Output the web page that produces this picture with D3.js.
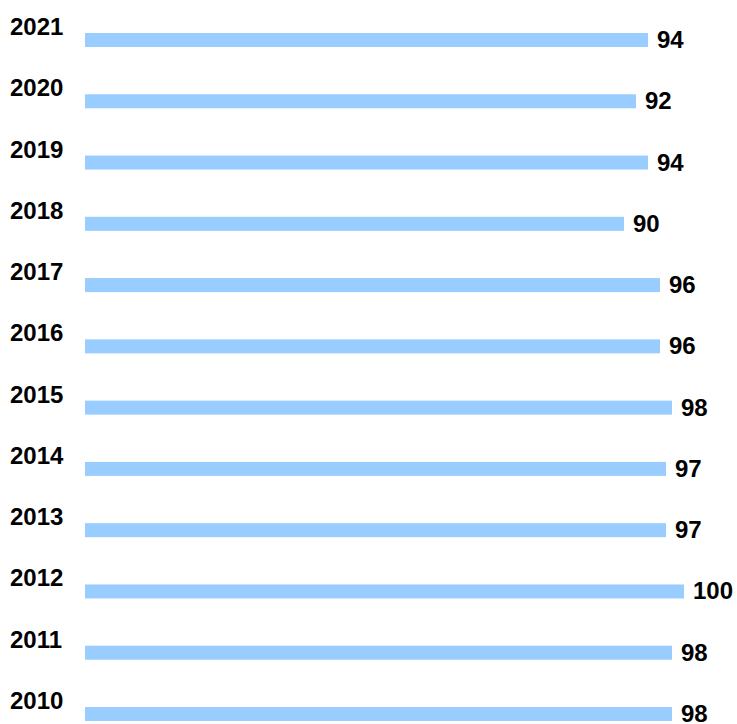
<!DOCTYPE html>
<html>
<head>
<meta charset="utf-8">
<script src="https://cdn.jsdelivr.net/npm/d3@7"></script>
<style>
  body { margin: 0; background: #fff; }
  text { font-family: "Liberation Sans", Arial, sans-serif; font-weight: bold; fill: #000; }
</style>
</head>
<body>
<script>
// data, top to bottom
const years = ["2021", "2020", "2019", "2018", "2017", "2016", "2015", "2014", "2013", "2012", "2011", "2010"];
const values = [94, 92, 94, 90, 96, 96, 98, 97, 97, 100, 98, 98];

const width = 737, height = 724;
const barH = 14;

const svg = d3.select("body").append("svg")
  .attr("width", width)
  .attr("height", height);

const x = d3.scaleLinear().domain([0, 100]).range([84, 684]);
// bar centers
const y = d3.scalePoint().domain(years).range([40, 714]);

const rows = years.map((yr, i) => ({ year: yr, value: values[i] }));

// bars
svg.selectAll("rect.bar")
  .data(rows)
  .join("rect")
  .attr("class", "bar")
  .attr("x", x(0) + 1)
  .attr("y", d => y(d.year) - barH / 2)
  .attr("width", d => x(d.value) - x(0) - 1)
  .attr("height", barH)
  .attr("fill", "#99ccff");

// year labels, sitting above the bar
svg.selectAll("text.year")
  .data(rows)
  .join("text")
  .attr("class", "year")
  .attr("x", 10)
  .attr("y", d => y(d.year) - 5)
  .attr("font-size", 24)
  .text(d => d.year);

// value labels at bar end
svg.selectAll("text.val")
  .data(rows)
  .join("text")
  .attr("class", "val")
  .attr("x", d => x(d.value) + 9)
  .attr("y", d => y(d.year) + 8)
  .attr("font-size", 24)
  .text(d => d.value);
</script>
</body>
</html>
